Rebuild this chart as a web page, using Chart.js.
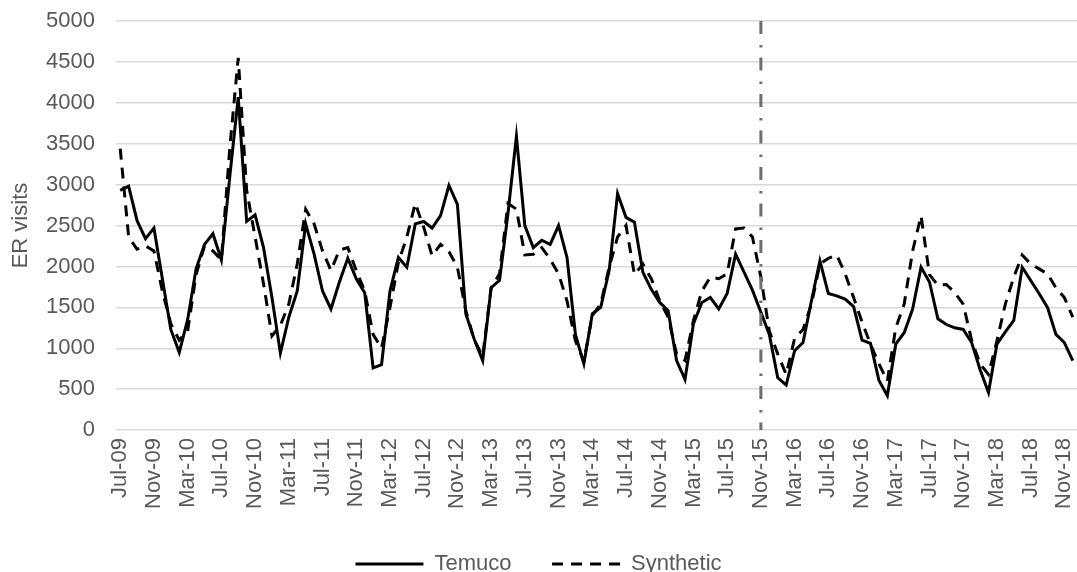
<!DOCTYPE html>
<html>
<head>
<meta charset="utf-8">
<title>ER visits - Temuco vs Synthetic</title>
<script src="https://cdn.jsdelivr.net/npm/chart.js@4.4.1/dist/chart.umd.min.js"></script>
<style>
    html, body { margin: 0; padding: 0; background: #fff; }
    .chart-container { position: relative; width: 1077px; height: 572px; }
</style>
</head>
<body>
<div class="chart-container">
    <canvas id="erChart"></canvas>
</div>
<script>
// meses, Jul-09 .. Dec-18
const months = [
    'Jul-09', 'Aug-09', 'Sep-09', 'Oct-09', 'Nov-09', 'Dec-09',
    'Jan-10', 'Feb-10', 'Mar-10', 'Apr-10', 'May-10', 'Jun-10', 'Jul-10', 'Aug-10', 'Sep-10', 'Oct-10', 'Nov-10', 'Dec-10',
    'Jan-11', 'Feb-11', 'Mar-11', 'Apr-11', 'May-11', 'Jun-11', 'Jul-11', 'Aug-11', 'Sep-11', 'Oct-11', 'Nov-11', 'Dec-11',
    'Jan-12', 'Feb-12', 'Mar-12', 'Apr-12', 'May-12', 'Jun-12', 'Jul-12', 'Aug-12', 'Sep-12', 'Oct-12', 'Nov-12', 'Dec-12',
    'Jan-13', 'Feb-13', 'Mar-13', 'Apr-13', 'May-13', 'Jun-13', 'Jul-13', 'Aug-13', 'Sep-13', 'Oct-13', 'Nov-13', 'Dec-13',
    'Jan-14', 'Feb-14', 'Mar-14', 'Apr-14', 'May-14', 'Jun-14', 'Jul-14', 'Aug-14', 'Sep-14', 'Oct-14', 'Nov-14', 'Dec-14',
    'Jan-15', 'Feb-15', 'Mar-15', 'Apr-15', 'May-15', 'Jun-15', 'Jul-15', 'Aug-15', 'Sep-15', 'Oct-15', 'Nov-15', 'Dec-15',
    'Jan-16', 'Feb-16', 'Mar-16', 'Apr-16', 'May-16', 'Jun-16', 'Jul-16', 'Aug-16', 'Sep-16', 'Oct-16', 'Nov-16', 'Dec-16',
    'Jan-17', 'Feb-17', 'Mar-17', 'Apr-17', 'May-17', 'Jun-17', 'Jul-17', 'Aug-17', 'Sep-17', 'Oct-17', 'Nov-17', 'Dec-17',
    'Jan-18', 'Feb-18', 'Mar-18', 'Apr-18', 'May-18', 'Jun-18', 'Jul-18', 'Aug-18', 'Sep-18', 'Oct-18', 'Nov-18', 'Dec-18'
];

const temuco = [
    2930, 2980, 2560, 2340, 2470, 1850,
    1230, 950, 1350, 1970, 2270, 2400, 2080, 3100, 4070, 2550, 2630, 2230,
    1620, 940, 1380, 1700, 2520, 2150, 1700, 1480, 1810, 2100, 1850, 1680,
    760, 800, 1700, 2110, 1990, 2520, 2550, 2470, 2620, 2990, 2760, 1420,
    1110, 850, 1740, 1830, 2650, 3590, 2500, 2230, 2320, 2270, 2500, 2110,
    1170, 810, 1420, 1500, 1950, 2890, 2600, 2540, 1930, 1720, 1560, 1460,
    850, 620, 1300, 1560, 1620, 1480, 1670, 2150, 1930, 1710, 1440, 1170,
    640, 550, 970, 1070, 1580, 2070, 1670, 1640, 1600, 1510, 1100, 1060,
    610, 420, 1050, 1190, 1480, 1990, 1810, 1360, 1290, 1250, 1230, 1070,
    740, 460, 1050, 1200, 1340, 1990, 1830, 1670, 1500, 1170, 1070, 850
];

const synthetic = [
    3440, 2360, 2210, 2250, 2190, 1700,
    1300, 1100, 1210, 1900, 2250, 2190, 2080, 3450, 4550, 2930, 2360, 1790,
    1150, 1280, 1540, 2030, 2700, 2520, 2190, 1950, 2200, 2230, 1950, 1700,
    1170, 1000, 1500, 2050, 2360, 2770, 2480, 2130, 2270, 2180, 1990, 1460,
    1100, 900, 1740, 1910, 2770, 2700, 2140, 2150, 2230, 2090, 1910, 1580,
    1090, 840, 1400, 1540, 1990, 2360, 2500, 1900, 2030, 1850, 1580, 1380,
    930, 850, 1340, 1700, 1870, 1850, 1910, 2460, 2470, 2360, 1870, 1210,
    930, 680, 1120, 1230, 1540, 2030, 2100, 2140, 1910, 1620, 1320, 1050,
    810, 600, 1250, 1540, 2190, 2620, 1900, 1770, 1780, 1680, 1540, 1100,
    810, 680, 1090, 1540, 1870, 2140, 2030, 1970, 1910, 1740, 1620, 1380
];

// inicio de la intervención (línea vertical)
const interventionMonth = 'Nov-15';
const labelEvery = 4;

const grisTexto = '#595959';
const fontMain = '"Liberation Sans", Arial, sans-serif';
const dashSynthetic = [11, 8];

// linea vertical punto-raya
const interventionLine = {
    id: 'interventionLine',
    afterDatasetsDraw(chart) {
        const { ctx, chartArea, scales } = chart;
        const x = scales.x.getPixelForValue(months.indexOf(interventionMonth));
        ctx.save();
        ctx.strokeStyle = '#6e6e6e';
        ctx.lineWidth = 3;
        ctx.setLineDash([13, 11, 2.5, 10]);
        ctx.beginPath();
        ctx.moveTo(x, chartArea.top);
        ctx.lineTo(x, chartArea.bottom);
        ctx.stroke();
        ctx.restore();
    }
};

const ctx = document.getElementById('erChart').getContext('2d');

new Chart(ctx, {
    type: 'line',
    data: {
        labels: months,
        datasets: [
            {
                label: 'Temuco',
                data: temuco,
                borderColor: '#000',
                backgroundColor: '#000',
                borderWidth: 3,
                pointRadius: 0,
                tension: 0,
                fill: false
            },
            {
                label: 'Synthetic',
                data: synthetic,
                borderColor: '#000',
                backgroundColor: '#000',
                borderWidth: 3,
                borderDash: dashSynthetic,
                pointRadius: 0,
                tension: 0,
                fill: false
            }
        ]
    },
    options: {
        responsive: true,
        maintainAspectRatio: false,
        animation: false,
        layout: { padding: { top: 21, left: 0, right: 0, bottom: -13 } },
        plugins: {
            legend: {
                position: 'bottom',
                labels: {
                    color: grisTexto,
                    font: { family: fontMain, size: 22 },
                    usePointStyle: true,
                    pointStyle: 'line',
                    pointStyleWidth: 68,
                    padding: 10,
                    // con usePointStyle el dash no pasa a la leyenda, lo copiamos a mano
                    generateLabels: (chart) => {
                        const items = Chart.defaults.plugins.legend.labels.generateLabels(chart);
                        items.forEach((item, i) => {
                            const ds = chart.data.datasets[item.datasetIndex];
                            item.lineDash = ds.borderDash || [];
                            item.lineWidth = ds.borderWidth;
                            item.strokeStyle = ds.borderColor;
                            // hueco extra entre las dos entradas
                            if (i === 0) item.text = ds.label + '     ';
                        });
                        return items;
                    }
                }
            },
            tooltip: { enabled: false }
        },
        scales: {
            x: {
                offset: true,
                grid: { display: false, drawTicks: false },
                border: { display: false },
                ticks: {
                    autoSkip: false,
                    minRotation: 90,
                    maxRotation: 90,
                    padding: 8,
                    color: grisTexto,
                    font: { family: fontMain, size: 22 },
                    callback: function(value, index) {
                        return index % labelEvery === 0 ? this.getLabelForValue(value) : null;
                    }
                },
                afterFit: (scale) => {
                    scale.paddingLeft = 0;
                    scale.paddingRight = 0;
                    scale.height += 26;
                }
            },
            y: {
                min: 0,
                max: 5000,
                grid: { color: '#d9d9d9', lineWidth: 1.5, drawTicks: false },
                border: { display: false },
                ticks: {
                    stepSize: 500,
                    padding: 21,
                    color: grisTexto,
                    font: { family: fontMain, size: 22 },
                    callback: (value) => String(value)
                },
                title: {
                    display: true,
                    text: 'ER visits',
                    color: grisTexto,
                    font: { family: fontMain, size: 22 },
                    padding: { top: 8, bottom: 12 }
                },
                afterFit: (scale) => {
                    scale.paddingTop = 0;
                    scale.paddingBottom = 0;
                    scale.width = 116;
                }
            }
        }
    },
    plugins: [interventionLine]
});
</script>
</body>
</html>
